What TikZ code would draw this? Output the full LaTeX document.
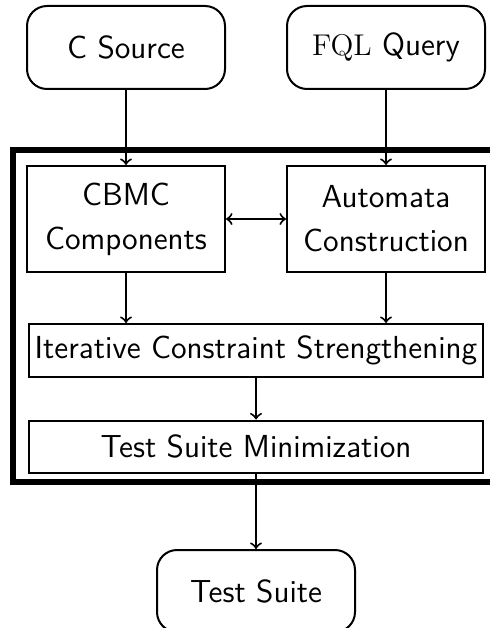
\documentclass[tikz,border=0pt]{standalone}
\usepackage{tikz}
\usetikzlibrary{positioning,calc}

\begin{document}
\begin{tikzpicture}
    \tikzset{myarrow/.style={->, thick},
             myfont/.style={font=\fontsize{12.75}{17.6}\selectfont\sffamily},
             myround/.style={draw, thick, rounded corners=8pt, myfont, minimum width=79.2pt, minimum height=33.2pt},
             mybox/.style={draw, thick, myfont, align=center, minimum width=79.2pt, minimum height=42.4pt},
             mywide/.style={draw, thick, myfont, minimum width=181.6pt, minimum height=21pt, inner xsep=2pt}}

    \useasboundingbox (0,0) rectangle (195.6pt,-251.2pt);

    \draw node[myround] at (50.4pt,-19pt) (csource) {C Source};
    \draw node[myround, right=24pt of csource] (fql) {$\mathrm{FQL}$ Query};
    \draw node[mybox, below=30pt of csource] (cbmc) {CBMC\\Components};
    \draw node[mybox, below=30pt of fql] (automata) {Automata\\Construction};
    \coordinate (mid) at ($(cbmc.south)!.5!(automata.south)$);
    \draw node[mywide, below=20pt of mid] (ics) {Iterative Constraint Strengthening};
    \draw node[mywide, below=16.8pt of ics] (tsm) {Test Suite Minimization};
    \draw node[myround, below=30pt of tsm, minimum height=32.8pt] (testsuite) {Test Suite};

    % the frame runs off the right edge
    \draw[line width=2.2pt] (5.2pt,-60pt) rectangle (200pt,-192.8pt);

    \draw[myarrow] (csource) -- (cbmc);
    \draw[myarrow] (fql) -- (automata);
    \draw[myarrow, <->] (cbmc) -- (automata);
    \draw[myarrow] (cbmc) -- (cbmc |- ics.north);
    \draw[myarrow] (automata) -- (automata |- ics.north);
    \draw[myarrow] (ics) -- (tsm);
    \draw[myarrow] (tsm) -- (testsuite);
  \end{tikzpicture}
\end{document}
